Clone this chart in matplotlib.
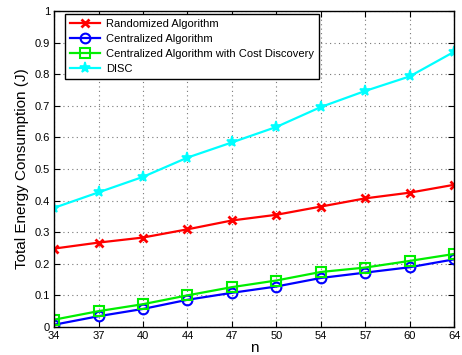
import numpy as np
import matplotlib
matplotlib.use('Agg')
import matplotlib.pyplot as plt

# energy consumption vs n
n_labels = ['34', '37', '40', '44', '47', '50', '54', '57', '60', '64']
randomized = [0.248, 0.267, 0.283, 0.309, 0.337, 0.355, 0.381, 0.407, 0.425, 0.450]
centralized = [0.007, 0.034, 0.057, 0.086, 0.108, 0.128, 0.155, 0.172, 0.189, 0.214]
centralized_cd = [0.023, 0.050, 0.072, 0.100, 0.126, 0.147, 0.174, 0.188, 0.209, 0.231]
disc = [0.377, 0.426, 0.475, 0.536, 0.584, 0.633, 0.696, 0.747, 0.793, 0.871]

plt.rcParams['font.family'] = ['Liberation Sans', 'DejaVu Sans']

fig = plt.figure(figsize=(4.62, 3.55), dpi=100)
ax = fig.add_axes([0.117, 0.079, 0.866, 0.890])

x = np.arange(len(n_labels))
ax.plot(x, randomized, color='red', lw=1.6, marker='x', ms=6, mew=2,
        label='Randomized Algorithm')
ax.plot(x, centralized, color='blue', lw=1.6, marker='o', ms=7, mew=1.5,
        mfc='none', label='Centralized Algorithm')
ax.plot(x, centralized_cd, color='#00ee00', lw=1.6, marker='s', ms=6.5, mew=1.5,
        mfc='none', label='Centralized Algorithm with Cost Discovery')
ax.plot(x, disc, color='cyan', lw=1.6, marker='*', ms=8, mew=1.2,
        label='DISC')

ax.set_xlim(0, len(n_labels) - 1)
ax.set_ylim(0, 1)
ax.set_xticks(x)
ax.set_xticklabels(n_labels)
ax.set_yticks(np.arange(0, 1.01, 0.1))
ax.set_yticklabels(['0', '0.1', '0.2', '0.3', '0.4', '0.5', '0.6', '0.7', '0.8', '0.9', '1'])
ax.tick_params(direction='in', top=True, right=True, labelsize=8, length=4, pad=3)
ax.grid(True, linestyle=(0, (1, 3)), color='#777777', lw=0.8)
for s in ax.spines.values():
    s.set_linewidth(1.0)

ax.set_xlabel('n', fontsize=11, labelpad=0)
ax.set_ylabel('Total Energy Consumption (J)', fontsize=11, labelpad=4)

leg = ax.legend(loc='upper left', bbox_to_anchor=(0.028, 0.99), fontsize=8,
                fancybox=False, framealpha=1, edgecolor='black',
                borderaxespad=0, handlelength=2.7, handletextpad=0.5,
                labelspacing=0.45, borderpad=0.45)
leg.get_frame().set_linewidth(1.0)

fig.savefig('out.png', dpi=100)
